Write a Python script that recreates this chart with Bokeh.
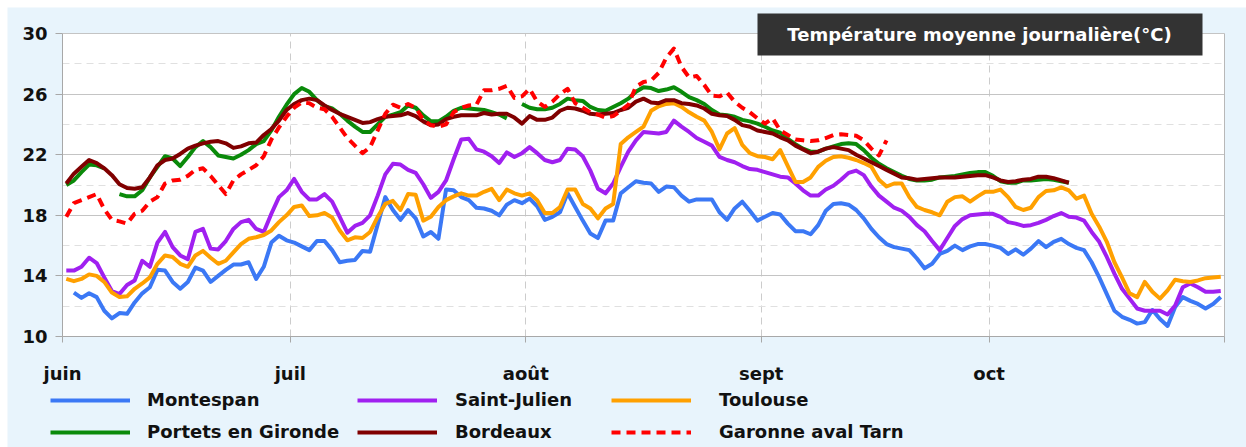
import numpy as np
from bokeh.plotting import figure
from bokeh.models import (Range1d, FixedTicker, Legend, LegendItem, Label, Grid,
                          BoxAnnotation, ColumnDataSource)
from bokeh.embed import file_html
from bokeh.resources import INLINE

# ---- data: daily mean temperature, 1 June .. 31 October (153 days) ----
n_days = 153
month_ticks = [0, 30, 61, 92, 122, 153]
month_labels = ["juin", "juil", "août", "sept", "oct", ""]
vgrid_ticks = [30, 61, 92, 122]
y_ticks = [10, 14, 18, 22, 26, 30]
y_minor = [12, 16, 20, 24, 28]

montespan = [None,
    12.9, 12.55, 12.85, 12.6, 11.7, 11.2, 11.55, 11.5, 12.25, 12.85, 13.25, 14.4, 14.35, 13.6, 13.15, 13.6,
    14.55, 14.35, 13.6, 14.0, 14.4, 14.75, 14.75, 14.9, 13.8,
    14.6, 16.2, 16.65, 16.35, 16.2, 15.95, 15.7, 16.3, 16.3, 15.7, 14.9, 15.0, 15.05, 15.65, 15.6, 17.4,
    19.2, 18.35, 17.7, 18.35, 17.8, 16.6, 16.9, 16.45, 19.7,
    19.65, 19.2, 19.0, 18.5, 18.45, 18.3, 18.0, 18.7, 19.0, 18.8, 19.1, 18.6, 17.7, 17.9, 18.2, 19.45,
    18.55, 17.65, 16.8, 16.5, 17.65, 17.65, 19.45, 19.85, 20.25, 20.15,
    20.1, 19.55, 19.9, 19.85, 19.3, 18.9, 19.05, 19.05, 19.05, 18.2, 17.7, 18.45, 18.9, 18.3, 17.65, 17.9,
    18.15, 18.05, 17.45, 16.95, 16.95, 16.75, 17.35, 18.3, 18.75, 18.8,
    18.7, 18.35, 17.8, 17.1, 16.55, 16.1, 15.9, 15.8, 15.7, 15.15, 14.5, 14.8, 15.45, 15.65, 16.0, 15.7,
    15.95, 16.1, 16.1, 16.0, 15.85, 15.45, 15.75, 15.4, 15.8,
    16.3, 15.9, 16.25, 16.45, 16.1, 15.85, 15.7, 14.9, 13.9, 12.8, 11.7, 11.3, 11.1, 10.85, 10.95, 11.75,
    11.15, 10.7, 11.95, 12.6, 12.35, 12.15, 11.85, 12.15, 12.6]

saint_julien = [
    14.35, 14.35, 14.6, 15.2, 14.85, 13.9, 13.0, 12.8, 13.4, 13.7, 15.0, 14.6, 16.2, 16.9, 15.9, 15.35,
    15.1, 16.9, 17.1, 15.8, 15.75, 16.3, 17.1, 17.55, 17.7, 17.1,
    16.9, 18.1, 19.2, 19.65, 20.4, 19.55, 19.05, 19.05, 19.4, 18.9, 17.9, 16.85, 17.3, 17.5, 18.0, 19.3,
    20.7, 21.4, 21.35, 21.0, 20.8, 20.05, 19.15, 19.55, 20.3,
    21.7, 23.0, 23.05, 22.35, 22.2, 21.9, 21.45, 22.15, 21.85, 22.1, 22.5, 22.1, 21.65, 21.5, 21.65, 22.4,
    22.35, 21.9, 20.95, 19.75, 19.45, 20.1, 21.2, 22.2, 22.95, 23.5,
    23.45, 23.4, 23.5, 24.25, 23.85, 23.5, 23.1, 22.85, 22.6, 21.85, 21.65, 21.5, 21.25, 21.05, 21.0, 20.85,
    20.7, 20.55, 20.5, 20.1, 19.65, 19.3, 19.3, 19.7, 19.95, 20.35,
    20.8, 20.95, 20.65, 19.9, 19.3, 18.9, 18.5, 18.3, 17.9, 17.35, 16.95, 16.3, 15.7, 16.5, 17.3, 17.75,
    18.0, 18.05, 18.1, 18.1, 17.9, 17.55, 17.45, 17.3, 17.35,
    17.5, 17.7, 17.95, 18.15, 17.9, 17.85, 17.65, 16.9, 16.25, 15.25, 14.15, 13.15, 12.5, 11.85, 11.7, 11.7,
    11.7, 11.45, 12.05, 13.25, 13.5, 13.25, 12.95, 12.95, 13.0]

toulouse = [
    13.8, 13.65, 13.8, 14.1, 14.0, 13.6, 12.9, 12.6, 12.65, 13.15, 13.5, 13.9, 14.8, 15.35, 15.25, 14.8,
    14.6, 15.35, 15.65, 15.2, 14.8, 15.0, 15.55, 16.1, 16.45, 16.55,
    16.7, 17.0, 17.55, 18.0, 18.55, 18.65, 17.95, 18.0, 18.15, 17.85, 17.0, 16.35, 16.55, 16.5, 16.9, 17.9,
    18.75, 18.95, 18.35, 19.4, 19.35, 17.65, 17.9, 18.55, 19.0,
    19.25, 19.45, 19.3, 19.3, 19.55, 19.75, 19.0, 19.7, 19.45, 19.3, 19.45, 19.0, 18.15, 18.15, 18.55, 19.7,
    19.7, 18.75, 18.45, 17.8, 18.45, 18.75, 22.7, 23.15, 23.5, 23.85,
    24.9, 25.2, 25.35, 25.4, 25.15, 24.8, 24.5, 24.25, 23.5, 22.35, 23.4, 23.75, 22.65, 22.1, 21.9, 21.85,
    21.7, 22.3, 21.25, 20.2, 20.2, 20.5, 21.2, 21.6, 21.85, 21.9,
    21.8, 21.65, 21.45, 21.2, 20.35, 19.9, 20.1, 20.1, 19.2, 18.55, 18.35, 18.2, 18.0, 18.9, 19.2, 19.25,
    18.9, 19.25, 19.55, 19.55, 19.7, 19.2, 18.55, 18.35, 18.5,
    19.2, 19.6, 19.65, 19.85, 19.65, 19.1, 19.3, 18.1, 17.25, 16.25, 14.9, 13.9, 12.85, 12.6, 13.6, 12.95,
    12.5, 13.05, 13.75, 13.65, 13.6, 13.7, 13.85, 13.9, 13.95]

portets = [
    20.0, 20.3, 20.85, 21.35, 21.3, 21.1, None, 19.4, 19.25, 19.25, 19.65, 20.5, 21.2, 21.9, 21.75, 21.25,
    21.85, 22.5, 22.9, 22.5, 21.95, 21.85, 21.75, 22.0, 22.3, 22.7,
    22.9, 23.6, 24.5, 25.3, 26.0, 26.4, 26.15, 25.6, 25.2, 25.05, 24.7, 24.25, 23.85, 23.5, 23.5, 24.0,
    24.5, 24.65, 24.8, 25.25, 25.1, 24.6, 24.2, 24.2, 24.5,
    24.9, 25.1, 25.05, 25.0, 24.95, 24.8, 24.65, 24.4, None, 25.35, 25.1, 25.0, 25.0, 25.1, 25.35, 25.7,
    25.6, 25.55, 25.15, 24.95, 24.9, 25.15, 25.4, 25.7, 26.15, 26.45,
    26.4, 26.2, 26.3, 26.45, 26.15, 25.8, 25.6, 25.35, 24.95, 24.65, 24.6, 24.5, 24.3, 24.2, 24.05, 23.85,
    23.6, 23.45, 23.05, 22.7, 22.4, 22.2, 22.2, 22.4, 22.55, 22.7,
    22.75, 22.7, 22.3, 21.8, 21.4, 21.1, 20.85, 20.6, 20.4, 20.3, 20.3, 20.35, 20.5, 20.55, 20.6, 20.7,
    20.8, 20.85, 20.85, 20.6, 20.25, 20.15, 20.15, 20.3, 20.3,
    20.35, 20.4, 20.35, 20.25, 20.15] + [None] * 20

bordeaux = [
    20.1, 20.75, 21.2, 21.65, 21.45, 21.1, 20.65, 20.05, 19.8, 19.75, 19.85, 20.5, 21.3, 21.65, 21.75, 22.05,
    22.4, 22.6, 22.75, 22.85, 22.9, 22.75, 22.45, 22.55, 22.75, 22.8,
    23.3, 23.7, 24.25, 24.95, 25.35, 25.6, 25.7, 25.6, 25.25, 24.95, 24.7, 24.5, 24.3, 24.1, 24.15, 24.35,
    24.5, 24.55, 24.6, 24.75, 24.55, 24.2, 23.95, 24.0, 24.35,
    24.5, 24.6, 24.6, 24.6, 24.75, 24.65, 24.7, 24.7, 24.45, 24.05, 24.55, 24.3, 24.3, 24.45, 24.9, 25.1,
    25.05, 24.9, 24.7, 24.65, 24.7, 24.75, 24.95, 25.1, 25.5, 25.7,
    25.45, 25.4, 25.6, 25.6, 25.4, 25.35, 25.25, 25.05, 24.7, 24.6, 24.55, 24.3, 23.95, 23.85, 23.6, 23.5,
    23.4, 23.15, 22.95, 22.6, 22.35, 22.1, 22.2, 22.4, 22.5, 22.4,
    22.3, 22.0, 21.75, 21.5, 21.25, 21.0, 20.75, 20.5, 20.45, 20.35, 20.4, 20.45, 20.5, 20.5, 20.5, 20.55,
    20.6, 20.65, 20.65, 20.5, 20.3, 20.2, 20.25, 20.35, 20.4,
    20.55, 20.55, 20.45, 20.3, 20.15] + [None] * 20

garonne_aval_tarn = [
    17.9, 18.8, 19.0, 19.2, 19.4, 18.4, 17.7, 17.6, 17.45, 18.1, 18.3, 18.9, 19.2, 20.1, 20.3, 20.35,
    20.6, 21.0, 21.1, 20.6, 20.0, 19.4, 20.3, 20.7, 21.0, 21.3,
    21.9, 23.0, 23.8, 24.5, 25.1, 25.45, 25.4, 25.1, 25.0, 24.5, 23.8, 23.1, 22.6, 22.1, 22.5, 23.6,
    24.7, 25.3, 25.1, 25.35, 25.1, 24.3, 23.95, 23.85, 24.0,
    24.8, 25.1, 25.25, 25.3, 26.25, 26.25, 26.35, 26.55, 25.75, 25.85, 26.35, 25.5, 25.15, 25.5, 26.0, 26.35,
    25.4, 25.1, 24.8, 24.65, 24.45, 24.55, 24.9, 25.3, 26.5, 26.8,
    26.9, 27.4, 28.4, 29.0, 27.8, 27.1, 27.2, 26.6, 25.9, 25.85, 26.1, 25.5, 25.1, 24.8, 24.4, 24.05,
    24.4, 23.6, 23.3, 23.0, 22.95, 22.9, 22.95, 23.1, 23.3, 23.35,
    23.3, 23.25, 22.95, 22.4, 21.95, 22.95] + [None] * 44

series = [
    ("Montespan", montespan, "#3b78f5", "solid"),
    ("Saint-Julien", saint_julien, "#a020f0", "solid"),
    ("Toulouse", toulouse, "#ffa000", "solid"),
    ("Portets en Gironde", portets, "#0a8a0a", "solid"),
    ("Bordeaux", bordeaux, "#800000", "solid"),
    ("Garonne aval Tarn", garonne_aval_tarn, "#ff0000", "9 6"),
]

FONT = "DejaVu Sans"
BG = "#e8f4fc"
W, H = 1239, 440
PX_DAY = 7.595          # pixels per day
PX_DEG = 15.15          # pixels per degree
X0 = 55                 # pixel of 1 June from the left edge
Y30 = 26                # pixel of 30 degrees from the top edge

x_range = Range1d(-X0 / PX_DAY, (W - X0) / PX_DAY)
y_range = Range1d(30 - (H - Y30) / PX_DEG, 30 + Y30 / PX_DEG)

p = figure(width=W, height=H, output_backend="svg", toolbar_location=None,
           x_range=x_range, y_range=y_range, min_border=0,
           background_fill_color=BG, border_fill_color=BG)
p.margin = (7, 0, 0, 7)
p.outline_line_color = None

# white plotting area
p.add_layout(BoxAnnotation(left=0, right=n_days, bottom=10, top=30,
                           fill_color="white", fill_alpha=1.0, line_color=None,
                           level="image"))

# y axis
yax = p.yaxis[0]
yax.fixed_location = 0
yax.bounds = (10, 30)
yax.ticker = FixedTicker(ticks=y_ticks, minor_ticks=y_minor)
yax.major_label_text_font = FONT
yax.major_label_text_font_style = "bold"
yax.major_label_text_font_size = "18px"
yax.major_label_text_color = "#111111"
yax.major_tick_out = 7
yax.major_tick_in = 0
yax.minor_tick_line_color = None
yax.axis_line_color = "#a8a8a8"
yax.major_tick_line_color = "#a8a8a8"
yax.major_label_standoff = 8

# x axis
xax = p.xaxis[0]
xax.fixed_location = 10
xax.bounds = (0, n_days)
xax.ticker = FixedTicker(ticks=month_ticks)
xax.major_label_overrides = {t: lab for t, lab in zip(month_ticks, month_labels)}
xax.major_label_text_font = FONT
xax.major_label_text_font_style = "bold"
xax.major_label_text_font_size = "18px"
xax.major_label_text_color = "#111111"
xax.major_tick_out = 6
xax.major_tick_in = 0
xax.minor_tick_line_color = None
xax.axis_line_color = "#a8a8a8"
xax.major_tick_line_color = "#a8a8a8"
xax.major_label_standoff = 20

# grids
yg = p.ygrid[0]
yg.bounds = (9, 31)
yg.cross_bounds = (0, n_days)
yg.grid_line_color = "#c4c4c4"
yg.minor_grid_line_color = "#e0e0e0"
yg.minor_grid_line_dash = "7 5"
xg = p.xgrid[0]
xg.ticker = FixedTicker(ticks=vgrid_ticks)
xg.bounds = (0, n_days)
xg.cross_bounds = (10, 30)
xg.grid_line_color = "#cccccc"
xg.grid_line_dash = "7 5"
p.add_layout(Grid(dimension=0, ticker=FixedTicker(ticks=[n_days]), bounds=(0, n_days + 5),
                  cross_bounds=(10, 30), grid_line_color="#b8b8b8"))

x = np.arange(n_days) + 0.5
renderers = {}
for name, vals, color, dash in series:
    y = np.array([np.nan if v is None else v for v in vals], dtype=float)
    src = ColumnDataSource(dict(x=x, y=y))
    r = p.line("x", "y", source=src, line_color=color, line_width=4, line_dash=dash,
               line_join="round")
    renderers[name] = r

legend_cols = [
    (["Montespan", "Portets en Gironde"], (43, 5), 17),
    (["Saint-Julien", "Bordeaux"], (350, 5), 18),
    (["Toulouse", "Garonne aval Tarn"], (604, 5), 28),
]
for names, loc, standoff in legend_cols:
    leg = Legend(items=[LegendItem(label=nm, renderers=[renderers[nm]]) for nm in names],
                 location=loc, orientation="vertical",
                 glyph_width=80, glyph_height=20, label_height=20, label_standoff=standoff,
                 spacing=11, padding=0, margin=0,
                 border_line_color=None, background_fill_alpha=0,
                 label_text_font=FONT, label_text_font_style="bold",
                 label_text_font_size="18px", label_text_color="#111111")
    p.add_layout(leg)

# title box (top right)
p.add_layout(BoxAnnotation(left=750, right=1195, bottom=H - 48, top=H - 6,
                           left_units="screen", right_units="screen",
                           bottom_units="screen", top_units="screen",
                           fill_color="#333333", fill_alpha=1.0, line_color=None))
p.add_layout(Label(x=972, y=H - 27, x_units="screen", y_units="screen",
                   text="Température moyenne journalière(°C)",
                   text_font=FONT, text_font_size="18px", text_font_style="bold",
                   text_color="white", text_align="center", text_baseline="middle"))

open("out.html", "w").write(file_html(p, INLINE))
